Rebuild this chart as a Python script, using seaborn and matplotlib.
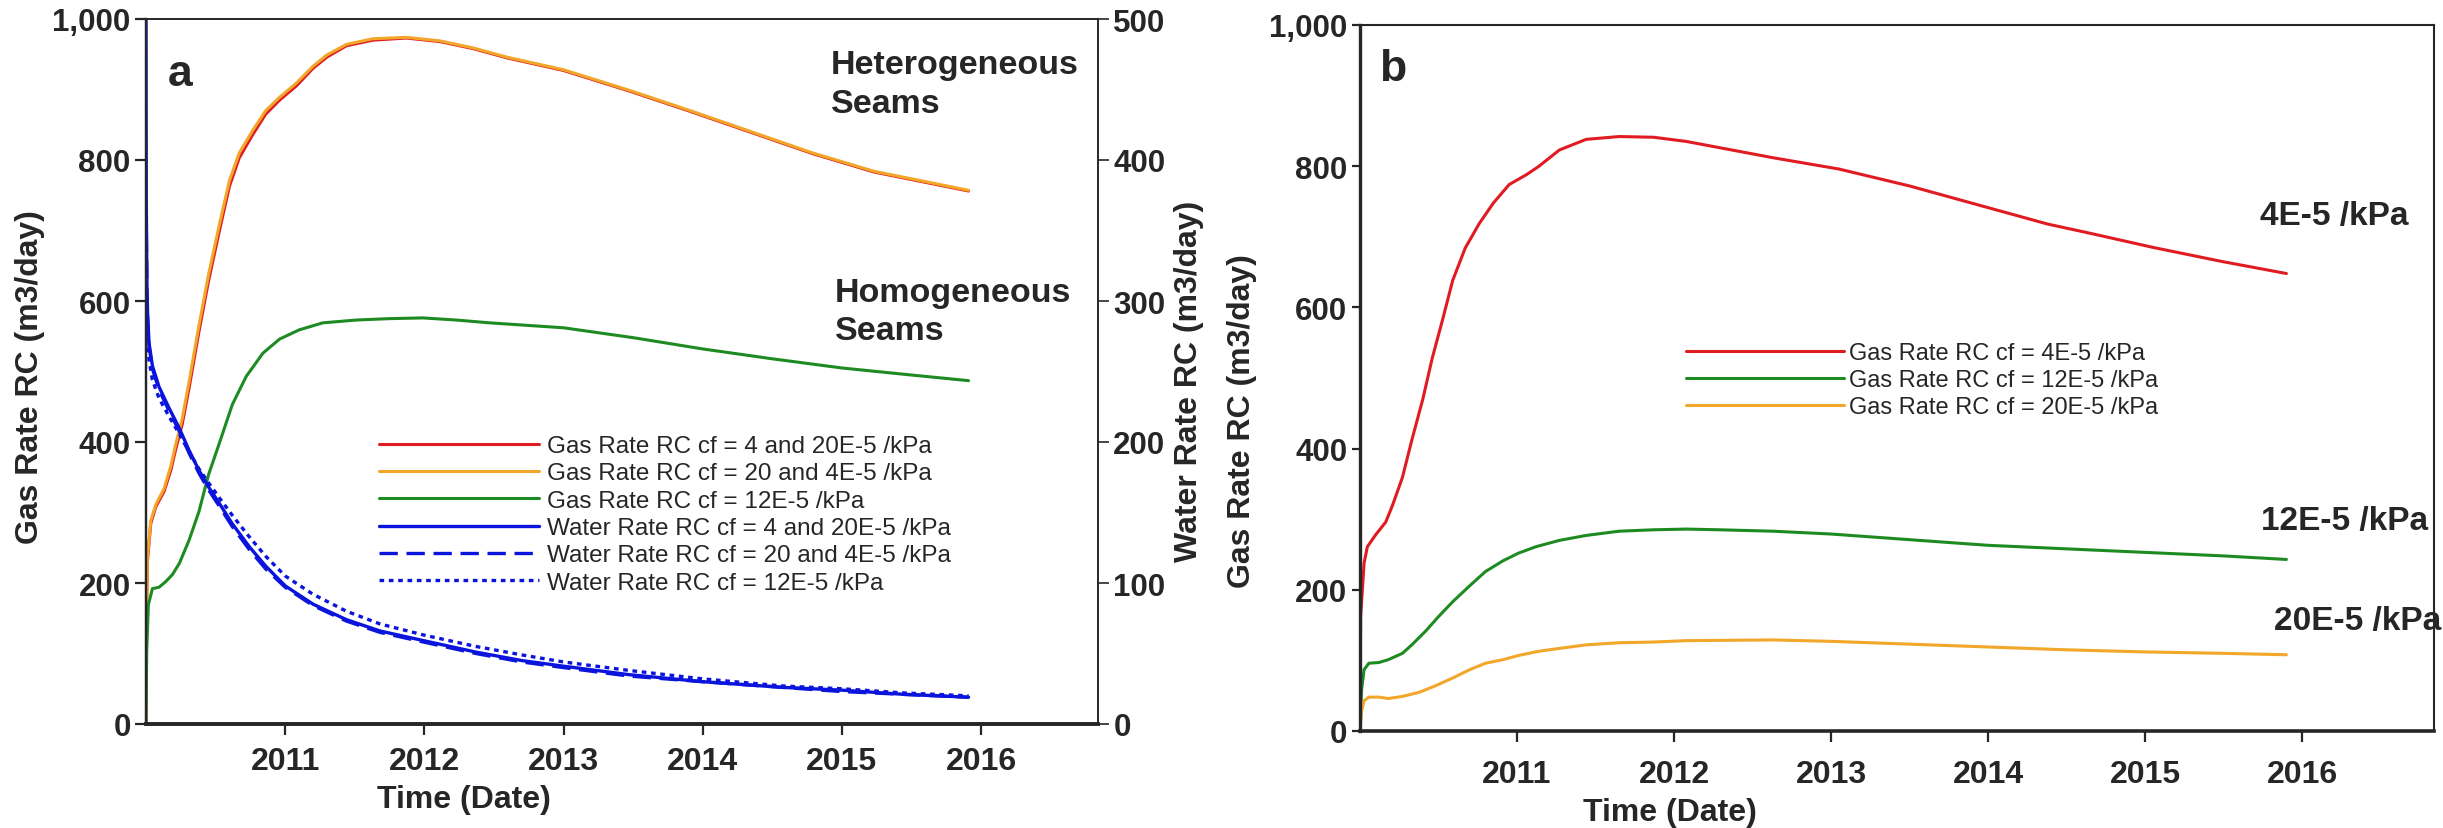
import numpy as np
import matplotlib
matplotlib.use("Agg")
import matplotlib.pyplot as plt
from matplotlib import font_manager as fm
from matplotlib.ticker import FuncFormatter, FixedLocator
import seaborn as sns

# ---------------------------------------------------------------- data
# Panel a: gas rates (left axis, m3/day) and water rates (right axis, m3/day)
t_het = [2010.000, 2010.003, 2010.010, 2010.034, 2010.070, 2010.130, 2010.180, 2010.210,
         2010.260, 2010.310, 2010.380, 2010.450, 2010.530, 2010.600, 2010.670, 2010.770,
         2010.860, 2010.960, 2011.080, 2011.200, 2011.300, 2011.440, 2011.630, 2011.870,
         2012.110, 2012.350, 2012.590, 2013.000, 2013.470, 2013.910, 2014.350, 2014.790,
         2015.230, 2015.910]
gas_a_4_20 = [0, 145, 230, 284, 308, 330, 361, 387, 425, 477, 556, 629, 702, 763, 803, 837,
              865, 885, 905, 930, 946, 962, 970, 973, 968, 958, 945, 927, 898, 869, 839, 809,
              783, 756]
gas_a_20_4 = [0, 150, 235, 288, 311, 334, 367, 394, 433, 486, 565, 638, 711, 771, 810, 843,
              870, 889, 909, 933, 949, 964, 972, 974, 969, 959, 946, 928, 899, 870, 840, 810,
              784, 757]

t_hom = [2010.000, 2010.005, 2010.017, 2010.046, 2010.094, 2010.142, 2010.190, 2010.240,
         2010.310, 2010.380, 2010.450, 2010.530, 2010.620, 2010.720, 2010.840, 2010.960,
         2011.100, 2011.270, 2011.510, 2011.750, 2011.990, 2012.230, 2012.470, 2013.000,
         2013.500, 2014.000, 2014.500, 2015.000, 2015.500, 2015.910]
gas_a_12 = [0, 102, 169, 192, 194, 202, 212, 228, 261, 301, 354, 400, 453, 493, 526, 546,
            559, 569, 573, 575, 576, 573, 569, 562, 548, 532, 518, 505, 495, 487]

t_wat = [2010.000, 2010.002, 2010.007, 2010.012, 2010.022, 2010.046, 2010.094, 2010.166,
         2010.238, 2010.310, 2010.380, 2010.450, 2010.530, 2010.620, 2010.740, 2010.860,
         2011.000, 2011.200, 2011.440, 2011.680, 2012.000, 2012.370, 2012.700, 2013.000,
         2013.470, 2014.000, 2014.570, 2015.000, 2015.450, 2015.910]
water_4_20 = [500, 369, 309, 289, 270, 254, 239, 224, 210, 194, 180, 168, 156, 142, 126, 112,
              98, 85, 74, 66, 59, 51, 45, 41, 35, 30, 26, 24, 21, 19]
water_20_4 = [367, 355, 305, 287, 268, 252, 237, 222, 208, 192, 178, 166, 154, 140, 124, 110,
              97, 84, 73, 65, 58, 50, 44, 40, 34, 30, 26, 23, 21, 19]
water_12 = [300, 292, 280, 270, 258, 244, 231, 218, 206, 193, 181, 171, 160, 148, 133, 119,
            105, 92, 80, 71, 63, 55, 49, 44, 38, 32, 27, 25, 22, 20]

# Panel b: gas rates for the three cleat compressibilities
t_b4 = [2010.000, 2010.004, 2010.026, 2010.047, 2010.100, 2010.164, 2010.206, 2010.270,
        2010.330, 2010.400, 2010.460, 2010.530, 2010.590, 2010.670, 2010.760, 2010.850,
        2010.950, 2011.060, 2011.140, 2011.270, 2011.440, 2011.650, 2011.870, 2012.080,
        2012.630, 2013.050, 2013.500, 2013.940, 2014.380, 2014.650, 2015.050, 2015.490,
        2015.900]
gas_b_4 = [0, 162, 238, 261, 278, 296, 319, 359, 412, 470, 528, 586, 638, 684, 719, 748,
           774, 788, 800, 823, 838, 842, 841, 835, 812, 796, 772, 745, 718, 705, 685, 665,
           648]

t_b12 = [2010.000, 2010.010, 2010.026, 2010.057, 2010.120, 2010.180, 2010.270, 2010.330,
         2010.420, 2010.500, 2010.590, 2010.700, 2010.800, 2010.910, 2011.010, 2011.120,
         2011.270, 2011.440, 2011.650, 2011.870, 2012.080, 2012.290, 2012.630, 2013.000,
         2013.500, 2014.000, 2014.500, 2015.000, 2015.500, 2015.900]
gas_b_12 = [0, 58, 87, 96, 97, 101, 110, 122, 142, 162, 183, 206, 226, 241, 252, 261,
            270, 277, 283, 285, 286, 285, 283, 279, 271, 263, 258, 253, 248, 243]

t_b20 = [2010.000, 2010.010, 2010.026, 2010.057, 2010.120, 2010.180, 2010.270, 2010.380,
         2010.480, 2010.590, 2010.700, 2010.800, 2010.910, 2011.010, 2011.140, 2011.270,
         2011.440, 2011.650, 2011.870, 2012.080, 2012.630, 2013.000, 2013.500, 2014.000,
         2014.500, 2015.000, 2015.500, 2015.900]
gas_b_20 = [0, 29, 43, 48, 48, 46, 49, 55, 64, 75, 87, 96, 101, 107, 113, 117,
            122, 125, 126, 128, 129, 127, 123, 119, 115, 112, 110, 108]

year_ticks = [2011, 2012, 2013, 2014, 2015, 2016]
gas_ticks = [0, 200, 400, 600, 800, 1000]
water_ticks = [0, 100, 200, 300, 400, 500]

labels_a = ["Gas Rate RC cf = 4 and 20E-5 /kPa",
            "Gas Rate RC cf = 20 and 4E-5 /kPa",
            "Gas Rate RC cf = 12E-5 /kPa",
            "Water Rate RC cf = 4 and 20E-5 /kPa",
            "Water Rate RC cf = 20 and 4E-5 /kPa",
            "Water Rate RC cf = 12E-5 /kPa"]
labels_b = ["Gas Rate RC cf = 4E-5 /kPa",
            "Gas Rate RC cf = 12E-5 /kPa",
            "Gas Rate RC cf = 20E-5 /kPa"]

# ---------------------------------------------------------------- style
RED = "#E01B22"
ORANGE = "#F2A62A"
GREEN = "#1E8A22"
BLUE = "#0A14DC"

sns.set_style("ticks")
installed = {f.name for f in fm.fontManager.ttflist}
SANS = "Liberation Sans" if "Liberation Sans" in installed else "DejaVu Sans"
NARROW = "Liberation Sans Narrow" if "Liberation Sans Narrow" in installed else SANS
plt.rcParams["font.family"] = [SANS, "DejaVu Sans"]
plt.rcParams["axes.linewidth"] = 1.2

W, H = 2443, 829
fig = plt.figure(figsize=(W / 100, H / 100), dpi=100)
ax_a = fig.add_axes([146 / W, 1 - 725 / H, 952 / W, 705 / H])
ax_w = ax_a.twinx()
ax_b = fig.add_axes([1360 / W, 1 - 732 / H, 1074 / W, 706 / H])

XLIM = (2010.0, 2016.84)


def draw(ax, t, v, color, ls="-", lw=2.2):
    sns.lineplot(x=np.asarray(t, float), y=np.asarray(v, float), ax=ax, color=color,
                 linestyle=ls, linewidth=lw, estimator=None, sort=False, legend=False)
    return ax.lines[-1]


def bold(size, family=SANS):
    return fm.FontProperties(family=family, weight="bold", size=size)


# ---------------------------------------------------------------- panel a
l1 = draw(ax_a, t_het, gas_a_4_20, RED)
l2 = draw(ax_a, t_het, gas_a_20_4, ORANGE)
l3 = draw(ax_a, t_hom, gas_a_12, GREEN)
l4 = draw(ax_w, t_wat, water_4_20, BLUE, lw=2.4)
l5 = draw(ax_w, t_wat, water_20_4, BLUE, ls=(0, (5.5, 2.6)), lw=2.4)
l6 = draw(ax_w, t_wat, water_12, BLUE, ls=(0, (1.4, 1.4)), lw=2.4)

ax_a.set_xlim(*XLIM)
ax_a.set_ylim(0, 1000)
ax_w.set_ylim(0, 500)
ax_a.xaxis.set_major_locator(FixedLocator(year_ticks))
ax_a.yaxis.set_major_locator(FixedLocator(gas_ticks))
ax_w.yaxis.set_major_locator(FixedLocator(water_ticks))
comma = FuncFormatter(lambda v, p: f"{v:,.0f}")
year_fmt = FuncFormatter(lambda v, p: f"{v:.0f}")
ax_a.yaxis.set_major_formatter(comma)
ax_a.xaxis.set_major_formatter(year_fmt)

for s, lw in (("bottom", 2.6), ("left", 1.6), ("top", 1.2), ("right", 1.2)):
    ax_a.spines[s].set_linewidth(lw)
    ax_w.spines[s].set_linewidth(lw)
ax_a.tick_params(axis="x", direction="out", length=8, width=1.6, pad=8)
ax_a.tick_params(axis="y", direction="out", length=8, width=1.6, pad=3)
ax_w.tick_params(axis="y", direction="out", length=8, width=1.2, pad=3)

for lab in ax_a.get_yticklabels() + ax_w.get_yticklabels():
    lab.set_fontproperties(bold(22.5))
for lab in ax_a.get_xticklabels():
    lab.set_fontproperties(bold(23, NARROW))

ax_a.set_xlabel("Time (Date)", fontproperties=bold(23, NARROW))
ax_a.xaxis.set_label_coords(0.334, -0.085)
ax_a.set_ylabel("Gas Rate RC (m3/day)", fontproperties=bold(23))
ax_a.yaxis.set_label_coords(-0.106, 0.493)
ax_w.set_ylabel("Water Rate RC (m3/day)", fontproperties=bold(23, NARROW))
ax_w.yaxis.set_label_coords(1.080, 0.487)

ax_a.text(0.023, 0.923, "a", transform=ax_a.transAxes, ha="left", va="center",
          fontsize=32, fontweight="bold", family=SANS)
ax_a.text(2014.92, 957, "Heterogeneous\nSeams", ha="left", va="top", fontsize=24.5,
          fontweight="bold", family=SANS, linespacing=1.3)
ax_a.text(2014.95, 634, "Homogeneous\nSeams", ha="left", va="top", fontsize=24.5,
          fontweight="bold", family=SANS, linespacing=1.3)

for line, lab in zip([l1, l2, l3, l4, l5, l6], labels_a):
    line.set_label(lab)
fig.legend([l1, l2, l3, l4, l5, l6], labels_a, loc="upper left",
           bbox_to_anchor=(379 / W, 1 - 436 / H), frameon=False,
           prop=fm.FontProperties(family=SANS, size=17.5), handlelength=6.6,
           handletextpad=0.3, labelspacing=0.22, borderpad=0, borderaxespad=0)

# ---------------------------------------------------------------- panel b
m1 = draw(ax_b, t_b4, gas_b_4, RED)
m2 = draw(ax_b, t_b12, gas_b_12, GREEN)
m3 = draw(ax_b, t_b20, gas_b_20, ORANGE)

ax_b.set_xlim(*XLIM)
ax_b.set_ylim(0, 1000)
ax_b.xaxis.set_major_locator(FixedLocator(year_ticks))
ax_b.yaxis.set_major_locator(FixedLocator(gas_ticks))
ax_b.yaxis.set_major_formatter(comma)
ax_b.xaxis.set_major_formatter(year_fmt)
for s, lw in (("bottom", 2.6), ("left", 2.4), ("top", 1.5), ("right", 1.5)):
    ax_b.spines[s].set_linewidth(lw)
ax_b.tick_params(axis="x", direction="out", length=8, width=1.6, pad=12)
ax_b.tick_params(axis="y", direction="out", length=6, width=1.6, pad=3)
for lab in ax_b.get_yticklabels():
    lab.set_fontproperties(bold(22.5))
for lab in ax_b.get_xticklabels():
    lab.set_fontproperties(bold(23, NARROW))

ax_b.set_xlabel("Time (Date)", fontproperties=bold(23, NARROW))
ax_b.xaxis.set_label_coords(0.289, -0.093)
ax_b.set_ylabel("Gas Rate RC (m3/day)", fontproperties=bold(23, NARROW))
ax_b.yaxis.set_label_coords(-0.096, 0.44)

ax_b.text(0.018, 0.938, "b", transform=ax_b.transAxes, ha="left", va="center",
          fontsize=32, fontweight="bold", family=NARROW)
ax_b.text(2015.73, 730, "4E-5 /kPa", ha="left", va="center", fontsize=24,
          fontweight="bold", family=NARROW)
ax_b.text(2015.74, 298, "12E-5 /kPa", ha="left", va="center", fontsize=24,
          fontweight="bold", family=NARROW)
ax_b.text(2015.82, 157, "20E-5 /kPa", ha="left", va="center", fontsize=24,
          fontweight="bold", family=NARROW)

fig.legend([m1, m2, m3], labels_b, loc="upper left",
           bbox_to_anchor=(1686 / W, 1 - 343 / H), frameon=False,
           prop=fm.FontProperties(family=SANS, size=17), handlelength=6.7,
           handletextpad=0.2, labelspacing=0.22, borderpad=0, borderaxespad=0)

fig.savefig("out.png", dpi=100, facecolor="white")
